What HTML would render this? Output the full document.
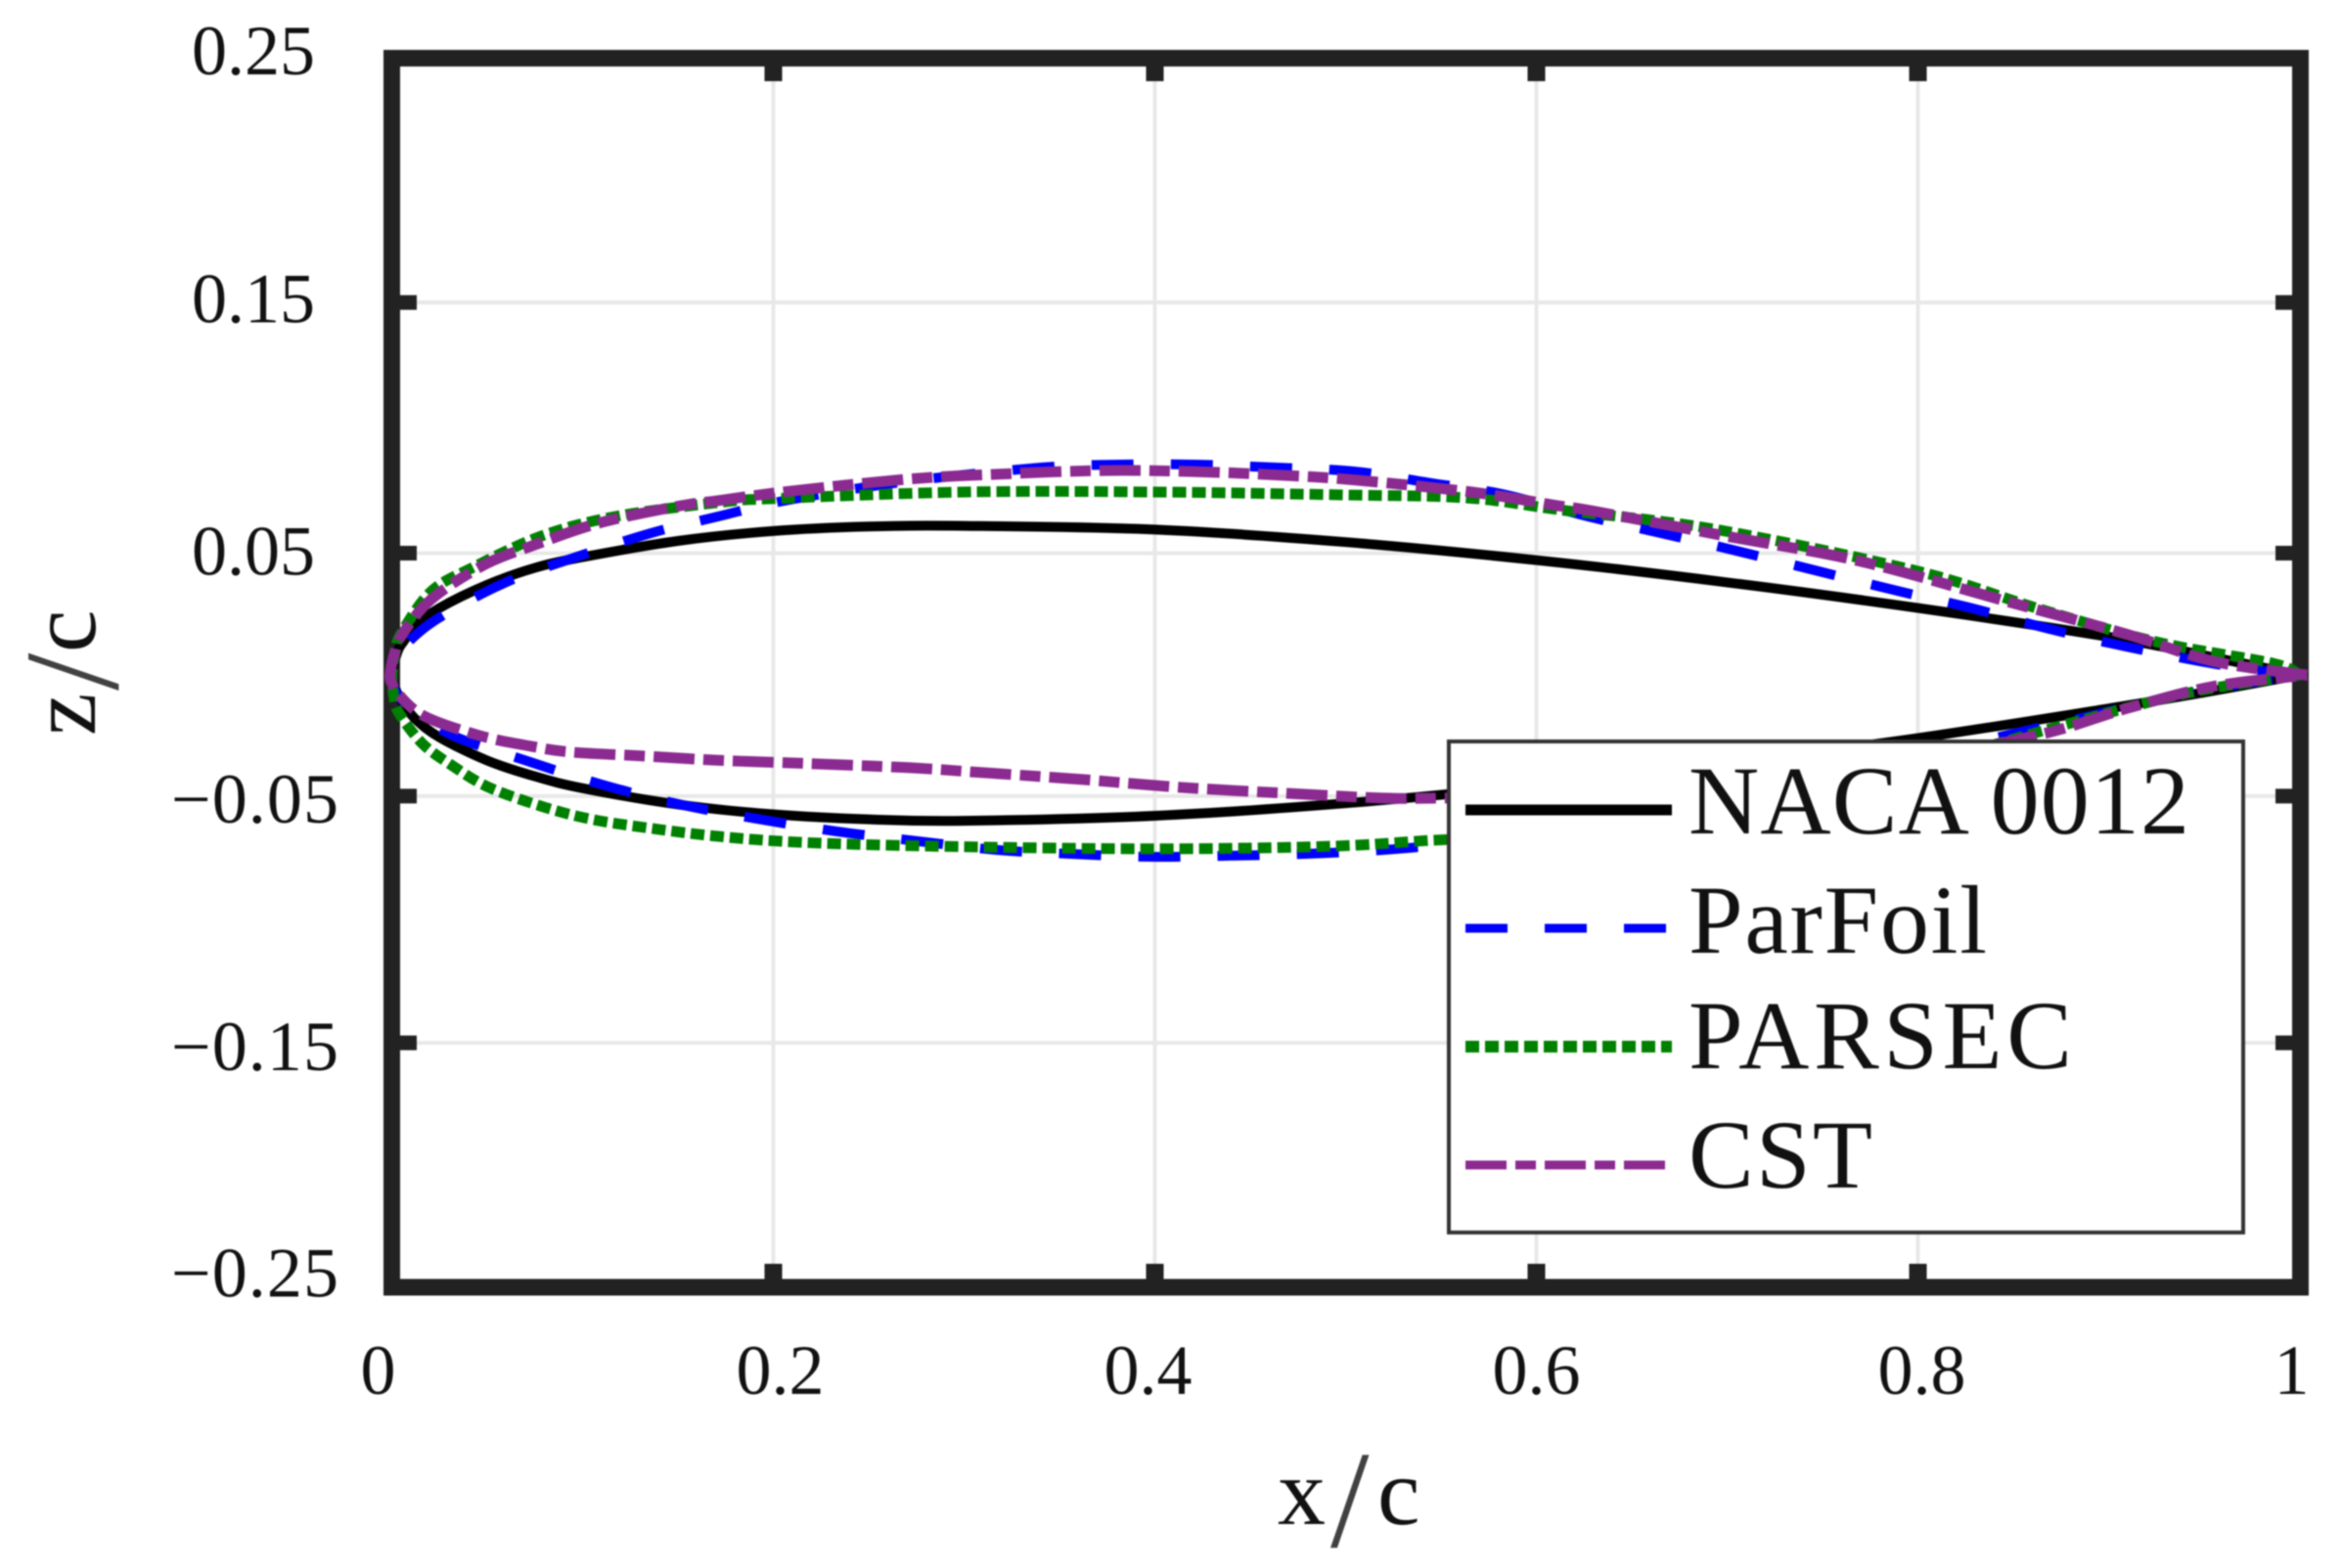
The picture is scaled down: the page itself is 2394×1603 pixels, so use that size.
<!DOCTYPE html>
<html lang="en">
<head>
<meta charset="utf-8">
<title>Airfoil parameterization comparison</title>
<style>
html,body{margin:0;padding:0;background:#fff;width:2394px;height:1603px;overflow:hidden}
svg{display:block;filter:blur(.9px)}
text{font-family:"Liberation Serif",serif;fill:#111}
</style>
</head>
<body>
<svg id="chart" xmlns="http://www.w3.org/2000/svg" width="2394" height="1603" viewBox="0 0 2394 1603">
  <rect x="0" y="0" width="2394" height="1603" fill="#fff"/>
  <g id="grid"></g>
  <rect x="400.5" y="59.5" width="1951" height="1256.5" fill="none" stroke="#222" stroke-width="17"/>
  <g id="ticks"></g>
  <g id="tickLabels"></g>
  <g id="series"></g>

  <g>
    <text x="1306" y="1558" font-size="98">x</text>
    <text x="1360" y="1581" font-size="142" font-weight="normal" fill-opacity="0.8">/</text>
    <text x="1408" y="1558" font-size="98">c</text>
  </g>
  <g transform="translate(97,752) rotate(-90)">
    <text x="0" y="0" font-size="98">z</text>
    <text x="46" y="23" font-size="138" fill-opacity="0.8">/</text>
    <text x="85" y="0" font-size="98">c</text>
  </g>

  <g>
    <rect x="1481" y="758" width="812" height="502" fill="#fff" stroke="#333" stroke-width="4"/>
    <g>
      <line x1="1498" y1="828" x2="1709" y2="828" stroke="#000" stroke-width="11"/>
      <text x="1726" y="852" font-size="100" textLength="512" lengthAdjust="spacing">NACA 0012</text>
    </g>
    <g>
      <line x1="1498" y1="949" x2="1709" y2="949" stroke="#0000ff" stroke-width="9" stroke-dasharray="43 38"/>
      <text x="1726" y="974" font-size="100" textLength="305" lengthAdjust="spacing">ParFoil</text>
    </g>
    <g>
      <line x1="1498" y1="1070" x2="1709" y2="1070" stroke="#008000" stroke-width="12" stroke-dasharray="14 6"/>
      <text x="1726" y="1092" font-size="100" textLength="392" lengthAdjust="spacing">PARSEC</text>
    </g>
    <g>
      <line x1="1498" y1="1191" x2="1709" y2="1191" stroke="#8b2a90" stroke-width="9" stroke-dasharray="42 9 21 9"/>
      <text x="1726" y="1214" font-size="100" textLength="188" lengthAdjust="spacing">CST</text>
    </g>
  </g>
</svg>
<script>
// ---- tick values and labels ----
const xTickValues = [0, 0.2, 0.4, 0.6, 0.8, 1];
const xTickLabels = ["0", "0.2", "0.4", "0.6", "0.8", "1"];
const yTickValues = [0.25, 0.15, 0.05, -0.05, -0.15, -0.25];
const yTickLabels = ["0.25", "0.15", "0.05", "\u22120.05", "\u22120.15", "\u22120.25"];

// ---- NACA 0012 ----
const nacaUpperX = [0, 0.003, 0.006, 0.0125, 0.025, 0.05, 0.075, 0.1, 0.15, 0.2, 0.25, 0.3, 0.4, 0.5, 0.6, 0.7, 0.8, 0.9, 0.95, 1];
const nacaUpperZ = [-0.001, 0.0085, 0.0125, 0.0189, 0.0262, 0.0356, 0.0425, 0.0468, 0.0534, 0.0574, 0.0592, 0.0595, 0.058, 0.0529, 0.0456, 0.0366, 0.0262, 0.0145, 0.007, -0.001];
const nacaLowerX = [0, 0.003, 0.006, 0.0125, 0.025, 0.05, 0.075, 0.1, 0.15, 0.2, 0.25, 0.3, 0.4, 0.5, 0.6, 0.7, 0.8, 0.9, 0.95, 1];
const nacaLowerZ = [-0.001, -0.0085, -0.0125, -0.0189, -0.0262, -0.0356, -0.042, -0.0468, -0.0534, -0.0574, -0.0594, -0.06, -0.058, -0.0529, -0.0456, -0.0366, -0.0265, -0.0145, -0.008, -0.001];

// ---- ParFoil ----
const parfoilUpperX = [0, 0.002, 0.005, 0.022, 0.058, 0.096, 0.136, 0.171, 0.208, 0.27, 0.34, 0.38, 0.422, 0.464, 0.505, 0.545, 0.582, 0.627, 0.668, 0.707, 0.748, 0.789, 0.829, 0.869, 0.909, 0.96, 1];
const parfoilUpperZ = [-0.001, 0.006, 0.0095, 0.0209, 0.036, 0.0467, 0.0566, 0.0633, 0.07, 0.0775, 0.0831, 0.0843, 0.0843, 0.0831, 0.0815, 0.0768, 0.0724, 0.0633, 0.0561, 0.049, 0.0411, 0.0332, 0.026, 0.0177, 0.0106, 0.003, -0.001];
const parfoilLowerX = [0, 0.003, 0.012, 0.032, 0.071, 0.11, 0.15, 0.19, 0.233, 0.273, 0.317, 0.355, 0.397, 0.438, 0.48, 0.52, 0.553, 0.6, 0.7, 0.8, 0.85, 0.89, 0.94, 1];
const parfoilLowerZ = [-0.001, -0.009, -0.015, -0.0255, -0.0358, -0.0453, -0.0532, -0.059, -0.0643, -0.068, -0.0718, -0.0734, -0.0746, -0.0742, -0.0734, -0.0718, -0.0695, -0.065, -0.052, -0.034, -0.0247, -0.0176, -0.0085, -0.001];

// ---- PARSEC ----
const parsecUpperX = [0, 0.002, 0.005, 0.0205, 0.0426, 0.08, 0.12, 0.174, 0.2, 0.3, 0.4, 0.5, 0.564, 0.615, 0.693, 0.8, 0.863, 0.925, 0.986, 1];
const parsecUpperZ = [-0.001, 0.009, 0.016, 0.0328, 0.0427, 0.0558, 0.0637, 0.0692, 0.0705, 0.0732, 0.0732, 0.072, 0.0708, 0.0657, 0.0582, 0.0411, 0.026, 0.0125, 0.0038, -0.001];
const parsecLowerX = [0, 0.001, 0.0035, 0.016, 0.032, 0.051, 0.08, 0.106, 0.14, 0.171, 0.213, 0.284, 0.4, 0.493, 0.543, 0.6, 0.7, 0.8, 0.86, 0.94, 1];
const parsecLowerZ = [-0.001, -0.009, -0.016, -0.0287, -0.0378, -0.0465, -0.0545, -0.0596, -0.0635, -0.0663, -0.0687, -0.0703, -0.0714, -0.0703, -0.068, -0.0655, -0.056, -0.038, -0.0247, -0.0085, -0.001];

// ---- CST ----
const cstUpperX = [-0.001, 0.0015, 0.005, 0.0205, 0.048, 0.075, 0.108, 0.149, 0.171, 0.205, 0.27, 0.317, 0.372, 0.42, 0.467, 0.506, 0.566, 0.611, 0.631, 0.699, 0.77, 0.847, 0.909, 0.955, 1.004];
const cstUpperZ = [-0.001, 0.008, 0.015, 0.0296, 0.0435, 0.0518, 0.0605, 0.0673, 0.0697, 0.0732, 0.0784, 0.0804, 0.0819, 0.0815, 0.08, 0.078, 0.0732, 0.0677, 0.0653, 0.0554, 0.0451, 0.0288, 0.0157, 0.0046, -0.001];
const cstLowerX = [0.0005, 0.0035, 0.017, 0.046, 0.073, 0.094, 0.133, 0.171, 0.21, 0.271, 0.31, 0.362, 0.414, 0.467, 0.519, 0.55, 0.6, 0.7, 0.8, 0.866, 0.909, 0.955, 1.004];
const cstLowerZ = [-0.005, -0.0088, -0.0176, -0.0255, -0.0298, -0.0322, -0.0338, -0.0355, -0.0366, -0.0385, -0.0405, -0.0433, -0.0465, -0.0488, -0.0508, -0.0508, -0.05, -0.044, -0.0345, -0.0247, -0.0146, -0.0055, -0.001];

// ---- axis functions ----
function xScale(v) { return 400.5 + 1950 * v; }
function yScale(v) { return 687.7 - 2523 * v; }

const svgNS = 'http://www.w3.org/2000/svg';
function make(tag, parent, attrs) {
  const el = document.createElementNS(svgNS, tag);
  for (const k in attrs) el.setAttribute(k, attrs[k]);
  parent.appendChild(el);
  return el;
}

const gridG = document.getElementById('grid');
const ticksG = document.getElementById('ticks');
const labelsG = document.getElementById('tickLabels');

// layout nudges for hand-set label placement in the original figure
const xLabelShift = [-14, 7, -7, 0, 4, -8];
const yLabelShift = [19, 20, 26, 27, 28, 7];
const yRuleShift = [0, 0, 4, 0, 0, 0];

xTickValues.forEach(function (v, i) {
  const px = xScale(v);
  if (v > 0 && v < 1) {
    const g = make('line', gridG, { x1: px, y1: 68, x2: px, y2: 1307, stroke: '#e8e8e8', 'stroke-width': 4 });
    
    
    const t1 = make('line', ticksG, { x1: px, y1: 66, x2: px, y2: 83, stroke: '#222', 'stroke-width': 18 });
    
    
    const t2 = make('line', ticksG, { x1: px, y1: 1309, x2: px, y2: 1292, stroke: '#222', 'stroke-width': 18 });
    
    
  }
  const label = make('text', labelsG, { x: px + xLabelShift[i], y: 1425, 'font-size': 72, 'text-anchor': 'middle' });
  
  
  label.textContent = xTickLabels[i];
});

yTickValues.forEach(function (v, i) {
  const py = yScale(v) + yRuleShift[i];
  if (Math.abs(v) < 0.2) {
    const g = make('line', gridG, { x1: 408, y1: py, x2: 2344, y2: py, stroke: '#e8e8e8', 'stroke-width': 4 });
    
    
    const t1 = make('line', ticksG, { x1: 406, y1: py, x2: 426, y2: py, stroke: '#222', 'stroke-width': 15 });
    
    
    const t2 = make('line', ticksG, { x1: 2346, y1: py, x2: 2326, y2: py, stroke: '#222', 'stroke-width': 15 });
    
    
  }
  const label = make('text', labelsG, { x: v > 0 ? 322 : 346, y: yScale(v) + yLabelShift[i], 'font-size': 72, 'text-anchor': 'end' });
  if (v < 0) label.setAttribute('textLength', '171');
  
  
  label.textContent = yTickLabels[i];
});

// Smooth closed-profile path: trailing edge -> upper surface -> leading edge -> lower surface -> trailing edge
function profilePath(upX, upZ, loX, loZ) {
  const pts = [];
  for (let i = upX.length - 1; i >= 0; i--) pts.push([xScale(upX[i]), yScale(upZ[i])]);
  for (let i = 0; i < loX.length; i++) {
    if (i === 0 && loX[0] === upX[0] && loZ[0] === upZ[0]) continue;
    pts.push([xScale(loX[i]), yScale(loZ[i])]);
  }
  let d = 'M' + pts[0][0].toFixed(1) + ' ' + pts[0][1].toFixed(1);
  for (let i = 0; i < pts.length - 1; i++) {
    const p0 = pts[Math.max(0, i - 1)], p1 = pts[i], p2 = pts[i + 1], p3 = pts[Math.min(pts.length - 1, i + 2)];
    const c1x = p1[0] + (p2[0] - p0[0]) / 6, c1y = p1[1] + (p2[1] - p0[1]) / 6;
    const c2x = p2[0] - (p3[0] - p1[0]) / 6, c2y = p2[1] - (p3[1] - p1[1]) / 6;
    d += 'C' + c1x.toFixed(1) + ' ' + c1y.toFixed(1) + ' ' + c2x.toFixed(1) + ' ' + c2y.toFixed(1) + ' ' + p2[0].toFixed(1) + ' ' + p2[1].toFixed(1);
  }
  return d;
}

const seriesG = document.getElementById('series');

const nacaLine = make('path', seriesG, { d: profilePath(nacaUpperX, nacaUpperZ, nacaLowerX, nacaLowerZ), fill: 'none', stroke: '#000', 'stroke-width': 10 });



const parfoilLine = make('path', seriesG, { d: profilePath(parfoilUpperX, parfoilUpperZ, parfoilLowerX, parfoilLowerZ), fill: 'none', stroke: '#0000ff', 'stroke-width': 10, 'stroke-dasharray': '43 38' });



const parsecLine = make('path', seriesG, { d: profilePath(parsecUpperX, parsecUpperZ, parsecLowerX, parsecLowerZ), fill: 'none', stroke: '#008000', 'stroke-width': 11, 'stroke-dasharray': '14 6' });



const cstLine = make('path', seriesG, { d: profilePath(cstUpperX, cstUpperZ, cstLowerX, cstLowerZ), fill: 'none', stroke: '#8b2a90', 'stroke-width': 11, 'stroke-dasharray': '42 9 21 9' });


</script>
</body>
</html>
